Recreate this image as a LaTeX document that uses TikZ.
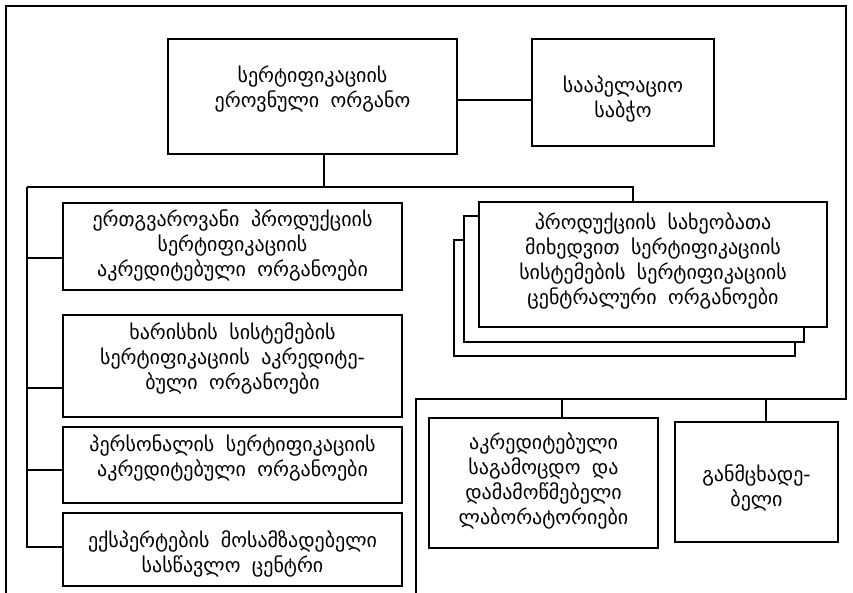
\documentclass[tikz,border=0pt]{standalone}
\usepackage{fontspec}
\setmainfont[WordSpace=1.8]{DejaVu Sans}
\begin{document}
\begin{tikzpicture}[x=1pt,y=-1pt,
  line width=1.6pt,
  box/.style={draw,fill=white,inner sep=0pt},
  txt/.style={align=center,inner sep=0pt,font=\fontsize{20}{25}\selectfont},
  ln/.style={line width=1.6pt}]
\useasboundingbox (0,0) rectangle (853,593);
% outer frame
\draw[ln] (6,593) -- (6,6) -- (846,6) -- (846,399) -- (416,399) -- (416,593);
% top
\node[box,minimum width=289pt,minimum height=115pt] (main) at (312.5,96.5) {};
\node[txt] (mainT) at ([yshift=7pt]main.center) {სერტიფიკაციის\\ეროვნული ორგანო};
\node[box,minimum width=182pt,minimum height=107pt] (appeal) at (623,92.5) {};
\node[txt] (appealT) at ([yshift=-7pt]appeal.center) {სააპელაციო\\საბჭო};
\coordinate (mr) at (457,100);
\draw[ln] (mr) -- (mr -| appeal.west);
% left column
\node[box,minimum width=339pt,minimum height=87pt] (b1) at (232.5,246.5) {};
\node[txt] (b1T) at ([yshift=1pt]b1.center)
  {ერთგვაროვანი პროდუქციის\\სერტიფიკაციის\\აკრედიტებული ორგანოები};
\node[box,minimum width=339pt,minimum height=102pt] (b2) at (232.5,366) {};
\node[txt] (b2T) at ([yshift=8pt]b2.center)
  {ხარისხის სისტემების\\სერტიფიკაციის აკრედიტე-\\ბული ორგანოები};
\node[box,minimum width=339pt,minimum height=76pt] (b3) at (232.5,465) {};
\node[txt] (b3T) at ([yshift=7pt]b3.center)
  {პერსონალის სერტიფიკაციის\\აკრედიტებული ორგანოები};
\node[box,minimum width=339pt,minimum height=73pt] (b4) at (232.5,549.5) {};
\node[txt] (b4T) at ([yshift=-4pt]b4.center)
  {ექსპერტების მოსამზადებელი\\სასწავლო ცენტრი};
% stacked boxes
\node[box,minimum width=341pt,minimum height=116pt] (sback) at (624.5,298) {};
\node[box,minimum width=340pt,minimum height=126pt] (smid) at (634,279) {};
\node[box,minimum width=348pt,minimum height=125pt] (sfront) at (653,264.5) {};
\node[txt] (sfrontT) at ([yshift=4pt]sfront.center)
  {პროდუქციის სახეობათა\\მიხედვით სერტიფიკაციის\\სისტემების სერტიფიკაციის\\ცენტრალური ორგანოები};
% bottom right
\node[box,minimum width=229pt,minimum height=130pt] (lab) at (543.5,483) {};
\node[txt] (labT) at ([yshift=2pt]lab.center)
  {აკრედიტებული\\საგამოცდო და\\დამამოწმებელი\\ლაბორატორიები};
\node[box,minimum width=163pt,minimum height=120pt] (appl) at (756.5,482) {};
\node[txt] (applT) at ([yshift=-6pt]appl.center) {განმცხადე-\\ბელი};
% bus connectors
\coordinate (ms) at (324,154);
\coordinate (bl) at (27,187);
\coordinate (br) at (633,187);
\coordinate (bend) at (27,547);
\draw[ln] (ms) -- (ms |- bl);
\draw[ln] (bl) -- (br) -- (br |- sfront.north);
\draw[ln] (bl) -- (bend) -- (bend -| b4.west);
\coordinate (c1) at (27,258);
\coordinate (c2) at (27,388);
\coordinate (c3) at (27,470);
\draw[ln] (c1) -- (c1 -| b1.west);
\draw[ln] (c2) -- (c2 -| b2.west);
\draw[ln] (c3) -- (c3 -| b3.west);
\coordinate (l1) at (562,399);
\coordinate (l2) at (766,399);
\draw[ln] (l1) -- (l1 |- lab.north);
\draw[ln] (l2) -- (l2 |- appl.north);
\end{tikzpicture}
\end{document}
